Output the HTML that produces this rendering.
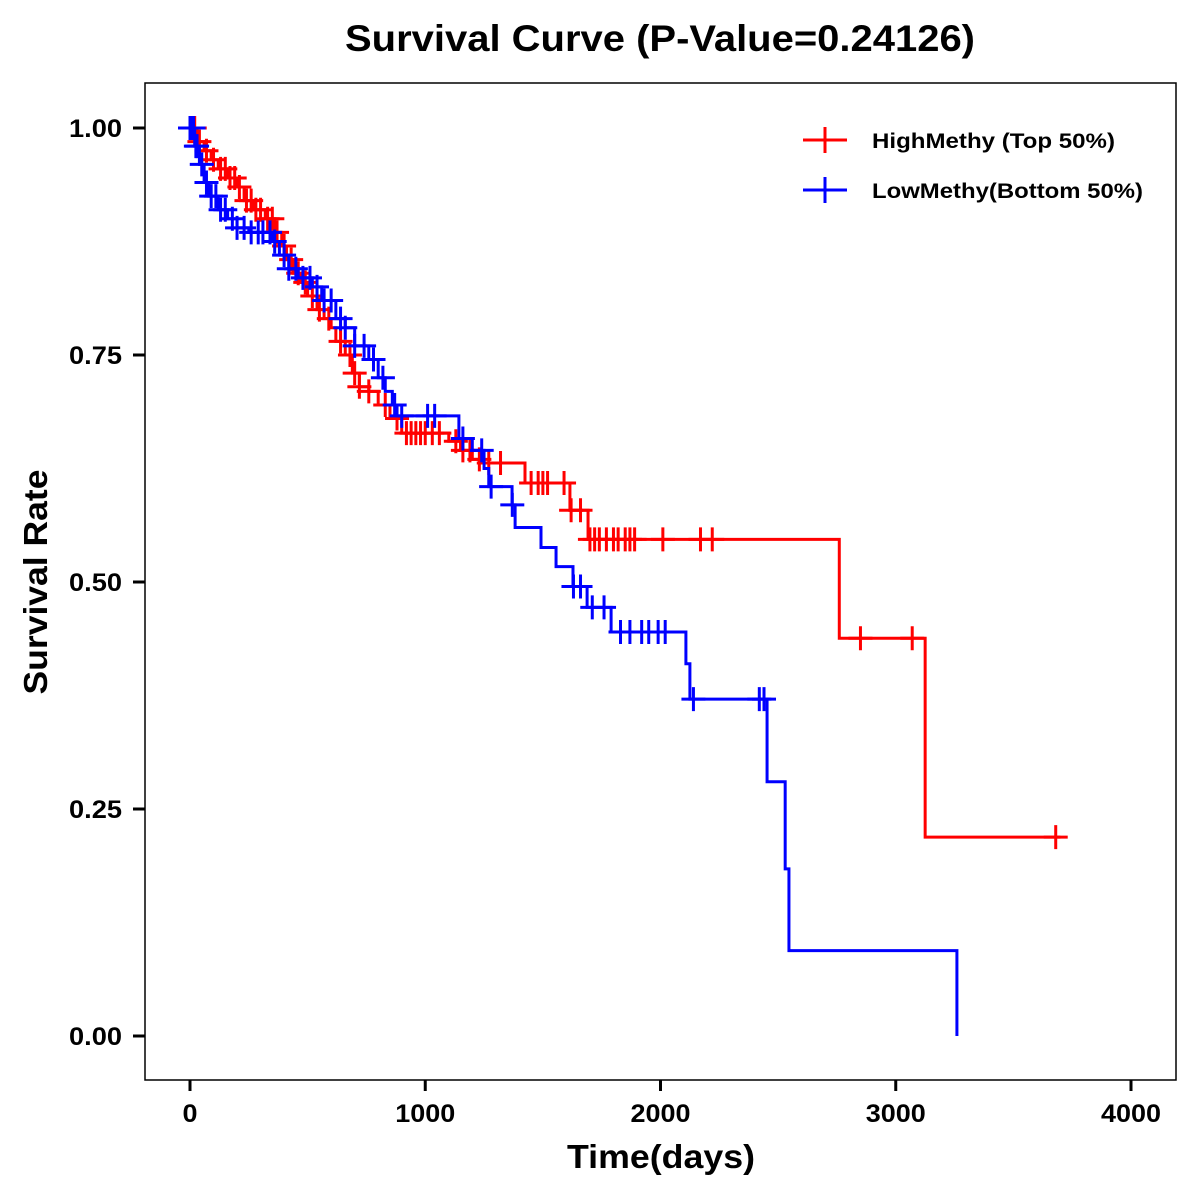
<!DOCTYPE html>
<html><head><meta charset="utf-8"><style>
html,body{margin:0;padding:0;background:#fff;}
svg{display:block;font-family:"Liberation Sans",Arial,sans-serif;font-weight:bold;}
</style></head><body>
<svg id="chart" width="1200" height="1200">
<text x="660" y="51" text-anchor="middle" font-size="37" textLength="630" lengthAdjust="spacingAndGlyphs">Survival Curve (P-Value=0.24126)</text>
<rect x="145" y="83" width="1031" height="997" fill="none" stroke="#000" stroke-width="1.5"/>
<g id="axes"></g>
<g id="series"></g>
<text x="661" y="1168" text-anchor="middle" font-size="33" textLength="188" lengthAdjust="spacingAndGlyphs">Time(days)</text>
<text transform="translate(47,582) rotate(-90)" text-anchor="middle" font-size="33" textLength="225" lengthAdjust="spacingAndGlyphs">Survival Rate</text>
<g>
<g>
<line x1="803" y1="140" x2="847" y2="140" stroke="#f00" stroke-width="3"/><line x1="825" y1="127" x2="825" y2="153" stroke="#f00" stroke-width="3"/>
<text x="872" y="148" font-size="21" textLength="243" lengthAdjust="spacingAndGlyphs">HighMethy (Top 50%)</text></g>
<g>
<line x1="803" y1="190" x2="847" y2="190" stroke="#00f" stroke-width="3"/><line x1="825" y1="177" x2="825" y2="203" stroke="#00f" stroke-width="3"/>
<text x="872" y="198" font-size="21" textLength="271" lengthAdjust="spacingAndGlyphs">LowMethy(Bottom 50%)</text></g>
</g>
</svg>
<script>
const xTicks=[0,1000,2000,3000,4000];
const yTicks=[0,0.25,0.5,0.75,1.0];
const yTickLabels=["0.00","0.25","0.50","0.75","1.00"];
const highTimes=[0,30,60,90,120,160,200,230,270,320,360,390,410,440,470,500,540,570,600,620,660,690,720,760,800,850,900,1100,1150,1200,1250,1424,1615,1692,2760,3125];
const highSurv=[1.0,0.985,0.975,0.965,0.955,0.945,0.935,0.92,0.91,0.90,0.885,0.87,0.855,0.84,0.83,0.815,0.80,0.79,0.78,0.765,0.75,0.73,0.715,0.71,0.695,0.68,0.664,0.655,0.645,0.635,0.631,0.609,0.579,0.547,0.438,0.219];
const highEnd=3700;
const highCensor=[20,40,70,100,130,150,170,190,210,240,260,280,300,330,350,370,400,430,460,490,520,550,590,640,680,700,720,760,830,880,920,940,960,980,1000,1030,1060,1130,1160,1190,1230,1270,1320,1450,1480,1500,1520,1590,1620,1660,1700,1720,1740,1770,1800,1820,1850,1870,1890,2010,2170,2220,2850,3070,3680];
const lowTimes=[0,20,40,60,80,120,160,200,250,350,380,420,460,520,560,620,660,700,760,800,830,860,880,1143,1200,1250,1270,1369,1382,1492,1556,1628,1688,1790,2108,2125,2453,2530,2546,3260];
const lowSurv=[1.0,0.98,0.96,0.94,0.925,0.91,0.90,0.89,0.885,0.875,0.86,0.845,0.835,0.825,0.81,0.79,0.78,0.76,0.745,0.725,0.71,0.695,0.683,0.658,0.645,0.625,0.605,0.585,0.56,0.538,0.517,0.495,0.472,0.445,0.41,0.371,0.28,0.184,0.094,0.0];
const lowEnd=3260;
const lowCensor=[0,5,10,15,25,30,50,70,90,110,130,150,180,200,230,260,290,310,340,360,400,420,450,480,510,540,570,600,640,660,700,740,780,820,870,900,1010,1040,1160,1240,1280,1370,1630,1660,1710,1760,1830,1870,1920,1950,1990,2020,2140,2420,2440];

const NS="http://www.w3.org/2000/svg";
const X=t=>190+t*0.23525;
const Y=s=>128+(1-s)*908;
function mk(tag,attrs,parent){const e=document.createElementNS(NS,tag);for(const k in attrs)e.setAttribute(k,attrs[k]);parent.appendChild(e);return e;}
const axes=document.getElementById('axes');
xTicks.forEach(t=>{
  const l=mk('line',{x1:X(t),x2:X(t),y1:1080,y2:1091,stroke:'#000','stroke-width':3},axes);
  
  
  const w=String(t).length*15;
  const tx=mk('text',{x:X(t),y:1122,'text-anchor':'middle','font-size':25,textLength:w,lengthAdjust:'spacingAndGlyphs'},axes);tx.textContent=t;
  
  
});
yTicks.forEach((s,i)=>{
  const l=mk('line',{x1:133,x2:145,y1:Y(s),y2:Y(s),stroke:'#000','stroke-width':3},axes);
  
  
  const tx=mk('text',{x:122,y:Y(s)+9,'text-anchor':'end','font-size':25,textLength:53,lengthAdjust:'spacingAndGlyphs'},axes);tx.textContent=yTickLabels[i];
  
  
});
const series=document.getElementById('series');
function draw(times,surv,end,cens,color,name){
  let d='M'+X(times[0])+','+Y(surv[0]);
  for(let i=1;i<times.length;i++){d+=' H'+X(times[i])+' V'+Y(surv[i]);}
  d+=' H'+X(end);
  const p=mk('path',{d:d,fill:'none',stroke:color,'stroke-width':3},series);
  
  
  const sAt=t=>{let v=surv[0];for(let i=0;i<times.length;i++){if(times[i]<=t)v=surv[i];}return v;};
  cens.forEach(t=>{
    const cx=X(t),cy=Y(sAt(t));
    const g=mk('path',{d:`M${cx-12},${cy} H${cx+12} M${cx},${cy-12} V${cy+12}`,stroke:color,'stroke-width':3,fill:'none'},series);
    
    
  });
}
draw(highTimes,highSurv,highEnd,highCensor,'#f00','high-methy');
draw(lowTimes,lowSurv,lowEnd,lowCensor,'#00f','low-methy');
</script>
</body></html>
